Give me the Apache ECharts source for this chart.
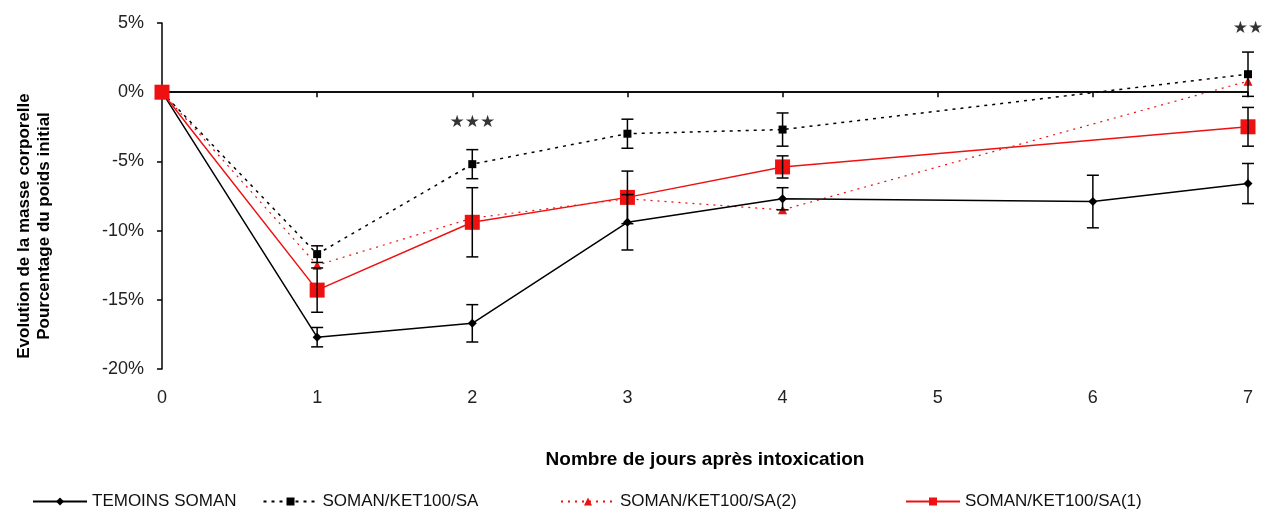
<!DOCTYPE html>
<html>
<head>
<meta charset="utf-8">
<script src="https://cdn.jsdelivr.net/npm/echarts@6/dist/echarts.min.js"></script>
<style>
html,body{margin:0;padding:0;background:#fff;}
#c{width:1263px;height:510px;}
</style>
</head>
<body>
<div id="c"></div>
<script>
// ---- data ----
const seriesNames = ['TEMOINS SOMAN', 'SOMAN/KET100/SA', 'SOMAN/KET100/SA(2)', 'SOMAN/KET100/SA(1)'];
const daysTemoins = [0, 1, 2, 3, 4, 6, 7];
const temoinsMean = [0, -17.7, -16.7, -9.4, -7.7, -7.9, -6.6];
const temoinsErr  = [0, 0.7, 1.35, 2.0, 0.8, 1.9, 1.45];
const daysKet = [0, 1, 2, 3, 4, 7];
const ketMean  = [0, -11.7, -5.2, -3.0, -2.7, 1.3];
const ketErr   = [0, 0.6, 1.05, 1.05, 1.2, 1.6];
const ket2Mean = [0, -12.5, -9.1, -7.7, -8.5, 0.8];
const ket1Mean = [0, -14.3, -9.4, -7.6, -5.4, -2.5];
const ket1Err  = [0, 1.6, 2.5, 1.9, 0.8, 1.4];
const sigDays = [2, 7];
const sigY = [-2.2, 4.6];
const sigText = ['★★★', '★★'];
const yTicks = [-20, -15, -10, -5, 0, 5];
const xTicks = [0, 1, 2, 3, 4, 5, 6, 7];

const RED = '#ee1111';
const FONT = 'Liberation Sans, Arial, sans-serif';

function pairs(xs, ys) { return xs.map((x, i) => [x, ys[i]]); }
function errTriples(xs, ys, es) { return xs.map((x, i) => [x, ys[i], es[i]]).filter(d => d[2] > 0); }

function errRender(params, api) {
  const x = api.value(0), m = api.value(1), e = api.value(2);
  const top = api.coord([x, m + e]);
  const bot = api.coord([x, m - e]);
  const w = 6;
  const st = { stroke: '#000', lineWidth: 1.5 };
  return {
    type: 'group',
    children: [
      { type: 'line', shape: { x1: top[0], y1: top[1], x2: bot[0], y2: bot[1] }, style: st },
      { type: 'line', shape: { x1: top[0] - w, y1: top[1], x2: top[0] + w, y2: top[1] }, style: st },
      { type: 'line', shape: { x1: bot[0] - w, y1: bot[1], x2: bot[0] + w, y2: bot[1] }, style: st }
    ]
  };
}

const legendCommon = {
  orient: 'horizontal', bottom: 0, padding: 0,
  itemWidth: 54, itemHeight: 10, itemGap: 26,
  textStyle: { fontFamily: FONT, fontSize: 17, color: '#111' }
};

const chart = echarts.init(document.getElementById('c'), null, { renderer: 'canvas' });
chart.setOption({
  animation: false,
  backgroundColor: '#fff',
  textStyle: { fontFamily: FONT },
  grid: { left: 162, right: 15, top: 23, bottom: 141 },
  xAxis: {
    type: 'value', min: xTicks[0], max: xTicks[xTicks.length - 1], interval: 1,
    name: 'Nombre de jours après intoxication',
    nameLocation: 'middle', nameGap: 81,
    nameTextStyle: { fontFamily: FONT, fontWeight: 'bold', fontSize: 19, color: '#000' },
    axisLine: { lineStyle: { color: '#000', width: 1.5 } },
    axisTick: { inside: false, length: 5, lineStyle: { color: '#000', width: 1.5 } },
    axisLabel: { fontFamily: FONT, fontSize: 18, color: '#222', margin: 20, showMinLabel: true, showMaxLabel: true },
    splitLine: { show: false }
  },
  yAxis: {
    type: 'value', min: yTicks[0], max: yTicks[yTicks.length - 1], interval: 5,
    axisLine: { show: true, lineStyle: { color: '#000', width: 1.5 } },
    axisTick: { show: true, inside: false, length: 5, lineStyle: { color: '#000', width: 1.5 } },
    axisLabel: { fontFamily: FONT, fontSize: 18, color: '#222', margin: 18, formatter: v => v + '%', showMinLabel: true, showMaxLabel: true },
    splitLine: { show: false }
  },
  legend: [
    Object.assign({}, legendCommon, { left: 32, data: [seriesNames[0], seriesNames[1]] }),
    Object.assign({}, legendCommon, { left: 560, data: [seriesNames[2]] }),
    Object.assign({}, legendCommon, { left: 905, data: [seriesNames[3]] })
  ],
  graphic: [{
    type: 'text', x: 34, y: 226, rotation: Math.PI / 2,
    style: {
      text: 'Evolution de la masse corporelle\nPourcentage du poids initial',
      font: 'bold 17px ' + FONT, fill: '#000', align: 'center', verticalAlign: 'middle', lineHeight: 20
    }
  }],
  series: [
    {
      name: seriesNames[0], type: 'line', data: pairs(daysTemoins, temoinsMean),
      symbol: 'diamond', symbolSize: 9, z: 4,
      lineStyle: { color: '#000', width: 1.5 }, itemStyle: { color: '#000' },
      markLine: {
        silent: true, symbol: 'none', label: { show: false },
        lineStyle: { color: '#000', width: 1.5, type: 'solid' },
        data: [{ yAxis: 0 }]
      }
    },
    {
      name: seriesNames[1], type: 'line', data: pairs(daysKet, ketMean),
      symbol: 'rect', symbolSize: 8, z: 4,
      lineStyle: { color: '#000', width: 1.5, type: [3, 5] }, itemStyle: { color: '#000' }
    },
    {
      name: seriesNames[2], type: 'line', data: pairs(daysKet, ket2Mean),
      symbol: 'triangle', symbolSize: 9, z: 3,
      lineStyle: { color: RED, width: 1.2, type: [2, 5] }, itemStyle: { color: RED }
    },
    {
      name: seriesNames[3], type: 'line', data: pairs(daysKet, ket1Mean),
      symbol: 'rect', symbolSize: 15, z: 5,
      lineStyle: { color: RED, width: 1.5 }, itemStyle: { color: RED }
    },
    { type: 'custom', renderItem: errRender, data: errTriples(daysTemoins, temoinsMean, temoinsErr), z: 6, silent: true },
    { type: 'custom', renderItem: errRender, data: errTriples(daysKet, ketMean, ketErr), z: 6, silent: true },
    { type: 'custom', renderItem: errRender, data: errTriples(daysKet, ket1Mean, ket1Err), z: 6, silent: true },
    {
      type: 'scatter', symbolSize: 0, silent: true, z: 7,
      data: sigDays.map((d, i) => ({ value: [d, sigY[i]], label: { formatter: sigText[i] } })),
      label: { show: true, position: 'inside', fontFamily: 'DejaVu Sans', fontSize: 17, color: '#000' }
    }
  ]
});
</script>
</body>
</html>
